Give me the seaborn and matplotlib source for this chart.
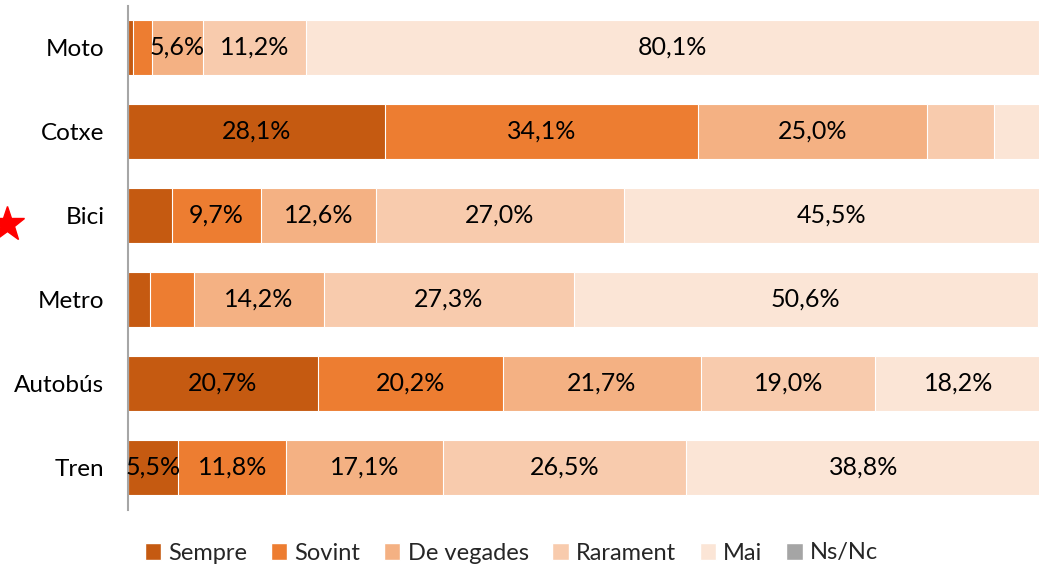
import numpy as np
import seaborn as sns
import matplotlib.pyplot as plt
from matplotlib.patches import Patch

# data (percent)
mitjans = ["Moto", "Cotxe", "Bici", "Metro", "Autobús", "Tren"]
sempre = [0.5, 28.1, 4.8, 2.4, 20.7, 5.5]
sovint = [2.1, 34.1, 9.7, 4.8, 20.2, 11.8]
de_vegades = [5.6, 25.0, 12.6, 14.2, 21.7, 17.1]
rarament = [11.2, 7.3, 27.0, 27.3, 19.0, 26.5]
mai = [80.1, 5.4, 45.5, 50.6, 18.2, 38.8]
ns_nc = [0.5, 0.1, 0.4, 0.7, 0.2, 0.3]

categories = ["Sempre", "Sovint", "De vegades", "Rarament", "Mai", "Ns/Nc"]
colors = ["#C55A11", "#ED7D31", "#F4B183", "#F8CBAD", "#FBE5D6", "#A5A5A5"]

# which segments carry a label in the original
shown = [
    [0, 0, 1, 1, 1, 0],
    [1, 1, 1, 0, 0, 0],
    [0, 1, 1, 1, 1, 0],
    [0, 0, 1, 1, 1, 0],
    [1, 1, 1, 1, 1, 0],
    [1, 1, 1, 1, 1, 0],
]

vals = np.array([sempre, sovint, de_vegades, rarament, mai, ns_nc])
cum = vals.cumsum(axis=0)

sns.set_style("white")
plt.rcParams['font.family'] = ['Lato', 'DejaVu Sans']

fig = plt.figure(figsize=(10.39, 5.66), dpi=100)
ax = fig.add_axes([128/1039, 1 - 509.5/566, 916/1039, 504/566])

# stacked bars: draw cumulative totals from the outside in
for i in range(len(categories) - 1, -1, -1):
    sns.barplot(x=cum[i], y=mitjans, color=colors[i], orient="h", width=0.655,
                saturation=1, edgecolor="white", linewidth=0.8, ax=ax)

for j, m in enumerate(mitjans):
    for i in range(len(categories)):
        if shown[j][i]:
            xc = cum[i][j] - vals[i][j] / 2
            ax.text(xc, j, f"{vals[i][j]:.1f}%".replace(".", ","),
                    ha="center", va="center", fontsize=18, color="black")

ax.set_xlim(0, 100)
ax.set_ylim(5.5, -0.5)
ax.set_xticks([])
ax.set_xlabel("")
ax.set_ylabel("")
ax.tick_params(axis="y", length=0, labelsize=17.5, pad=17, labelcolor="black")
for s in ["top", "right", "bottom"]:
    ax.spines[s].set_visible(False)
ax.spines["left"].set_color("#A6A6A6")
ax.spines["left"].set_linewidth(1.5)

handles = [Patch(facecolor=c, label=l) for c, l in zip(colors, categories)]
fig.legend(handles=handles, loc="center", bbox_to_anchor=(0.492, 1 - 553/566),
           ncol=6, frameon=False, fontsize=17, handlelength=0.7,
           handleheight=0.7, handletextpad=0.3, columnspacing=1.0)

# red star marker on the left
fig.add_artist(plt.Line2D([7/1039], [1 - 224/566], marker="*", color="#FF0000",
                          markersize=26, transform=fig.transFigure))

fig.savefig("out.png", dpi=100)
